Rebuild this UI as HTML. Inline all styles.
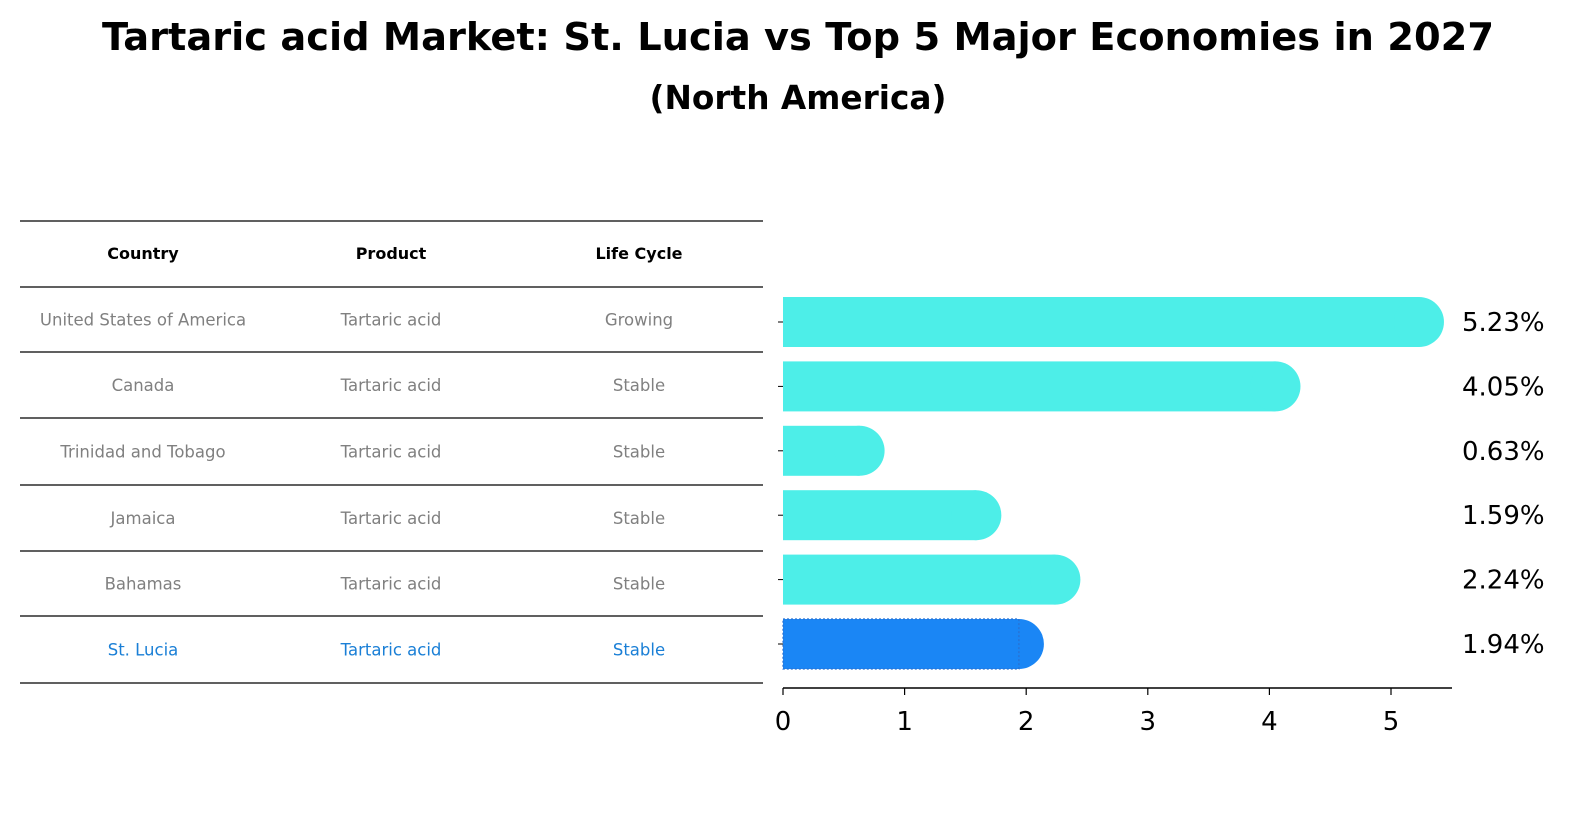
<!DOCTYPE html>
<html><head><meta charset="utf-8"><style>
body{margin:0;background:#fff;width:1586px;height:823px;overflow:hidden;font-family:"DejaVu Sans","Liberation Sans",sans-serif;}
</style></head><body>
<svg width="1586" height="823" xmlns="http://www.w3.org/2000/svg" font-family="DejaVu Sans, Liberation Sans, sans-serif">
<text x="798" y="50" text-anchor="middle" font-size="38" font-weight="bold" textLength="1392" lengthAdjust="spacingAndGlyphs">Tartaric acid Market: St. Lucia vs Top 5 Major Economies in 2027</text>
<text x="798" y="109" text-anchor="middle" font-size="33" font-weight="bold" textLength="297" lengthAdjust="spacingAndGlyphs">(North America)</text>
<g id="table"></g>
<g id="bars"></g>
</svg>
<script>
const countries=["United States of America","Canada","Trinidad and Tobago","Jamaica","Bahamas","St. Lucia"];
const products=["Tartaric acid","Tartaric acid","Tartaric acid","Tartaric acid","Tartaric acid","Tartaric acid"];
const lifeCycles=["Growing","Stable","Stable","Stable","Stable","Stable"];
const values=[5.23,4.05,0.63,1.59,2.24,1.94];
const ticks=[0,1,2,3,4,5];
const NS="http://www.w3.org/2000/svg";
function mk(tag,attrs,parent,text){const e=document.createElementNS(NS,tag);for(const k in attrs)e.setAttribute(k,attrs[k]);if(text!==undefined)e.textContent=text;parent.appendChild(e);return e;}
const tbl=document.getElementById('table');
const lineYs=[221,287,352,418,485,551,616,683];
lineYs.forEach(y=>{const l=mk('line',{x1:20,x2:763,y1:y,y2:y,stroke:'#000','stroke-width':1.2},tbl);

});
const colX=[143,391,639];
["Country","Product","Life Cycle"].forEach((h,i)=>{const t=mk('text',{x:colX[i],y:259,'text-anchor':'middle','font-size':16,'font-weight':'bold'},tbl,h);

});
countries.forEach((c,i)=>{
 const y=(lineYs[i+1]+lineYs[i+2])/2+6;
 const col=i===5?'#1a7fd6':'#808080';
 [c,products[i],lifeCycles[i]].forEach((v,j)=>{const t=mk('text',{x:colX[j],y:y,'text-anchor':'middle','font-size':16.5,fill:col},tbl,v);
 
 });
});
const g=document.getElementById('bars');
const x0=783, ppu=121.6;
const xs=v=>x0+v*ppu;
const barTop0=297, step=64.4, bh=50;
values.forEach((v,i)=>{
 const y=barTop0+i*step, cy=y+bh/2;
 const col=i===5?'#1a86f5':'#4deee8';
 const grp=mk('g',{},g);
 
 
 mk('rect',{x:x0,y:y,width:xs(v)-x0,height:bh,fill:col},grp);
 mk('circle',{cx:xs(v),cy:cy,r:bh/2,fill:col},grp);
 if(i===5)mk('rect',{x:x0,y:y,width:xs(v)-x0,height:bh,fill:'none',stroke:'#2a70d0','stroke-width':1.2,'stroke-dasharray':'2,2'},grp);
 mk('line',{x1:778,x2:783,y1:cy,y2:cy,stroke:'#000','stroke-width':1},g);
 const t=mk('text',{x:1462,y:cy+9,'font-size':26},g,v.toFixed(2)+'%');
 
 
});
const ax=mk('line',{x1:x0,x2:1452,y1:688,y2:688,stroke:'#000','stroke-width':1.5},g);


ticks.forEach(t=>{
 mk('line',{x1:xs(t),x2:xs(t),y1:688,y2:695,stroke:'#000','stroke-width':1.2},g);
 const e=mk('text',{x:xs(t),y:730,'text-anchor':'middle','font-size':26},g,t);
 
 
});
</script>
</body></html>
